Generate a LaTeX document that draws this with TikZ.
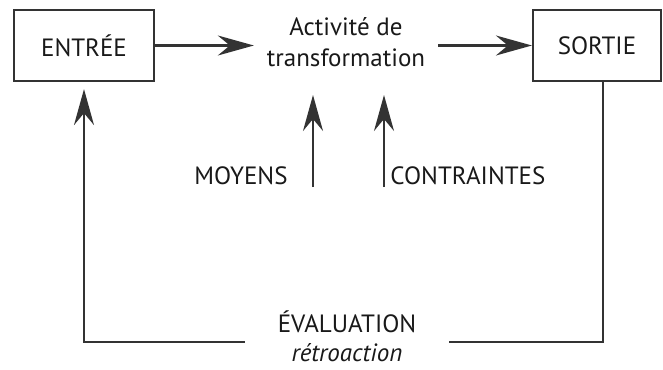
\documentclass[tikz,border=0pt]{standalone}
\usepackage{fontspec}
\setmainfont{PT Sans}
\usetikzlibrary{arrows.meta}

\tikzset{
  box/.style={draw, line width=2.2pt, minimum width=140pt, minimum height=71pt, inner sep=0pt},
  txt/.style={font=\fontsize{25}{31}\selectfont, text=black!90},
}

\begin{document}
\begin{tikzpicture}[x=1pt, y=-1pt, line width=2.2pt, draw=black!80,
    >={Stealth[length=36pt, width=20pt, inset=12pt]}, every node/.style={txt}]
    \useasboundingbox (0,0) rectangle (663,369);

    % the two boxes: input and output
    \node[box] (entree) at (84,45.5) {ENTRÉE};
    \node[box, minimum width=128pt] (sortie) at (597,45.5) {SORTIE};

    % the activity in between
    \node[align=center, inner xsep=12pt] (activite) at (346,42) {Activité de\\transformation};

    % the two labels under the activity
    \node[anchor=east] (moyens) at (292,176) {MOYENS};
    \node[anchor=west] (contraintes) at (386,176) {CONTRAINTES};

    % the feedback label at the bottom
    \node[align=center, inner xsep=32pt, font=\fontsize{25}{29}\selectfont]
        (evaluation) at (347,336) {ÉVALUATION\\\textit{rétroaction}};

    % feet and heads of the two arrows into the activity
    \coordinate (moy-bas) at (313,187);
    \coordinate (moy-haut) at (313,95);
    \coordinate (con-bas) at (384,187);
    \coordinate (con-haut) at (384,95);
    % foot of the line out of SORTIE, and the two ends of the bottom line
    \coordinate (sortie-bas) at ([xshift=6pt]sortie.south);
    \coordinate (eval-droite) at ([yshift=-6pt]evaluation.east);
    \coordinate (eval-gauche) at ([yshift=-6pt]evaluation.west);

    % Arrow from ENTRÉE to the activity
    \draw[->] (entree.east) -- (entree.east -| activite.west);
    % Arrow from the activity to SORTIE
    \draw[->] (activite.east |- sortie.west) -- (sortie.west);

    % Arrows for MOYENS and CONTRAINTES
    \draw[->] (moy-bas) -- (moy-haut);
    \draw[->] (con-bas) -- (con-haut);

    % the feedback loop: down from SORTIE, back up into ENTRÉE
    \draw (sortie-bas) |- (eval-droite);
    \draw[->, shorten >=7pt] (eval-gauche) -| (entree.south);
\end{tikzpicture}
\end{document}
